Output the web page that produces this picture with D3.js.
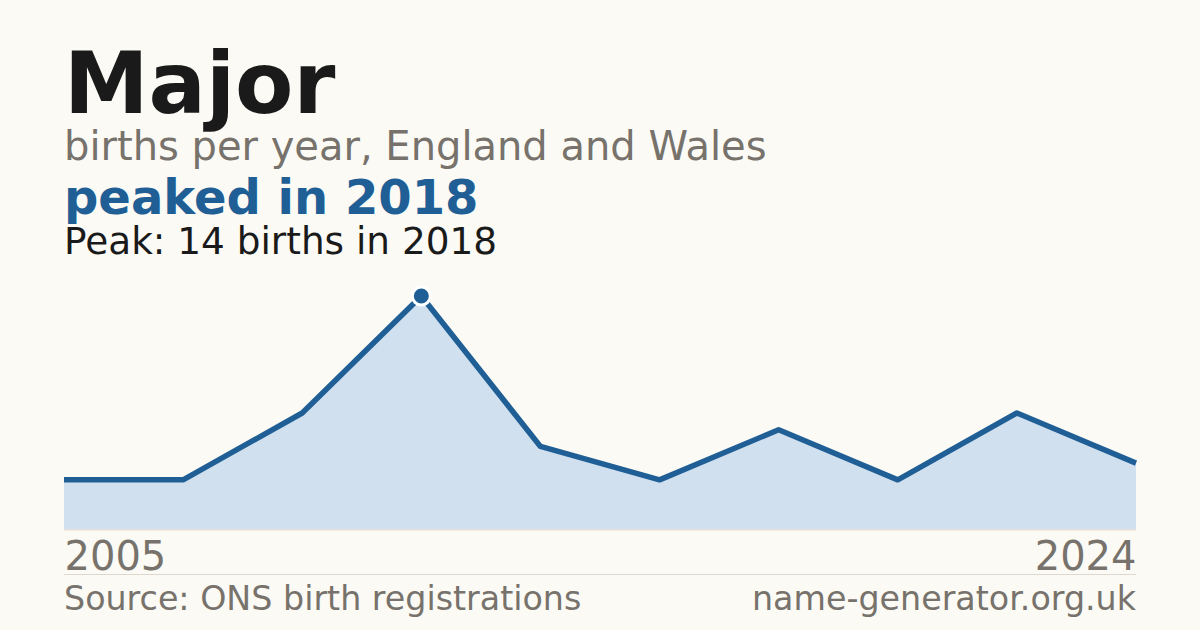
<!DOCTYPE html>
<html>
<head>
<meta charset="utf-8">
<script src="https://cdn.jsdelivr.net/npm/d3@7"></script>
<style>
  html, body { margin: 0; padding: 0; background: #fbfaf5; }
  svg { display: block; font-family: "DejaVu Sans", sans-serif; }
</style>
</head>
<body>
<div id="chart"></div>
<script>
// values
const years = ["2005", "2009", "2014", "2018", "2019", "2020", "2021", "2022", "2023", "2024"]
const births = [3, 3, 7, 14, 5, 3, 6, 3, 7, 4]
const tickLabels = ["2005", "2024"]

const peakIndex = births.indexOf(d3.max(births))

const dimensions = {
    width: 1200,
    height: 630,
    left: 64,
    right: 1136,
    top: 296,
    bottom: 530
}

const svg = d3.select("#chart")
    .append("svg")
        .attr("width", dimensions.width)
        .attr("height", dimensions.height)

svg.append("rect")
    .attr("width", dimensions.width)
    .attr("height", dimensions.height)
    .attr("fill", "#fbfaf5")

// headings
svg.append("text")
    .attr("x", 64).attr("y", 113)
    .attr("font-size", 85).attr("font-weight", "bold")
    .attr("fill", "#1a1a1a")
    .text("Major")

svg.append("text")
    .attr("x", 64).attr("y", 160)
    .attr("font-size", 40)
    .attr("fill", "#77726b")
    .text("births per year, England and Wales")

svg.append("text")
    .attr("x", 64).attr("y", 214)
    .attr("font-size", 48)
    .attr("font-weight", "bold")
    .attr("fill", "#1f5f95")
    .text("peaked in " + years[peakIndex])

svg.append("text")
    .attr("x", 64).attr("y", 254)
    .attr("font-size", 37.4)
    .attr("fill", "#1a1a1a")
    .text(`Peak: ${births[peakIndex]} births in ${years[peakIndex]}`)

// scales
const xScale = d3.scalePoint()
    .domain(years)
    .range([dimensions.left, dimensions.right])

const yScale = d3.scaleLinear()
    .domain([0, d3.max(births)])
    .range([dimensions.bottom, dimensions.top])

const data = years.map((y, i) => ({ year: y, value: births[i] }))

const areaGenerator = d3.area()
    .x(d => xScale(d.year))
    .y0(yScale(0))
    .y1(d => yScale(d.value))

const lineGenerator = d3.line()
    .x(d => xScale(d.year))
    .y(d => yScale(d.value))

svg.append("path")
    .attr("d", areaGenerator(data))
    .attr("fill", "#d0e0ef")

svg.append("line")
    .attr("x1", dimensions.left).attr("x2", dimensions.right)
    .attr("y1", yScale(0)).attr("y2", yScale(0))
    .attr("stroke", "#ebe3d6")
    .attr("stroke-width", 1.5)

svg.append("path")
    .attr("d", lineGenerator(data))
    .attr("fill", "none")
    .attr("stroke", "#1f5f95")
    .attr("stroke-width", 5.5)
    .attr("stroke-linejoin", "round")

// peak marker
svg.append("circle")
    .attr("cx", xScale(years[peakIndex]))
    .attr("cy", yScale(births[peakIndex]))
    .attr("r", 9)
    .attr("fill", "#1f5f95")
    .attr("stroke", "#ffffff")
    .attr("stroke-width", 3)

// x axis: just the end labels
const xAxisGenerator = d3.axisBottom(xScale)
    .tickValues(tickLabels)
    .tickSize(0)
    .tickPadding(0)

const xAxis = svg.append("g")
    .attr("transform", `translate(0, ${dimensions.bottom})`)
    .call(xAxisGenerator)

xAxis.select(".domain").remove()
xAxis.selectAll("text")
    .attr("font-family", "DejaVu Sans, sans-serif")
    .attr("font-size", 40)
    .attr("fill", "#77726b")
    .attr("dy", null)
    .attr("y", 40)
    .attr("text-anchor", (d, i) => i === 0 ? "start" : "end")

// footer
svg.append("line")
    .attr("x1", dimensions.left).attr("x2", dimensions.right)
    .attr("y1", 574.5).attr("y2", 574.5)
    .attr("stroke", "#dcd8d0")
    .attr("stroke-width", 1)

svg.append("text")
    .attr("x", 64).attr("y", 610)
    .attr("font-size", 33.3)
    .attr("fill", "#77726b")
    .text("Source: ONS birth registrations")

svg.append("text")
    .attr("x", 1136).attr("y", 610)
    .attr("font-size", 33.3)
    .attr("text-anchor", "end")
    .attr("fill", "#77726b")
    .text("name-generator.org.uk")
</script>
</body>
</html>
